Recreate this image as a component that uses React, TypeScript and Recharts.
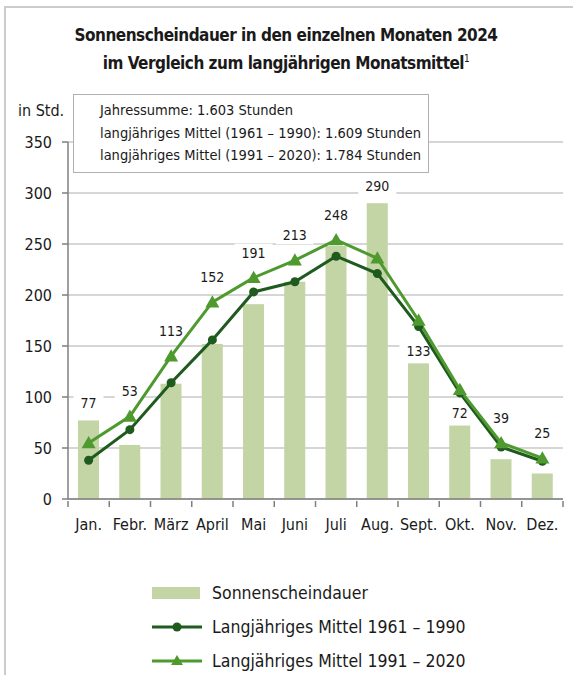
import React from "react";
import { ComposedChart, Bar, Line, XAxis, YAxis, CartesianGrid } from "recharts";

const months = ["Jan.", "Febr.", "März", "April", "Mai", "Juni", "Juli", "Aug.", "Sept.", "Okt.", "Nov.", "Dez."];
const sunshine2024 = [77, 53, 113, 152, 191, 213, 248, 290, 133, 72, 39, 25];
const mean1961to1990 = [38, 68, 114, 156, 203, 213, 238, 221, 169, 104, 51, 37];
const mean1991to2020 = [55, 81, 140, 193, 217, 234, 254, 236, 175, 107, 55, 40];
const yTicks = [0, 50, 100, 150, 200, 250, 300, 350];

const data = months.map((m, i) => ({
  month: m,
  sun: sunshine2024[i],
  m6190: mean1961to1990[i],
  m9120: mean1991to2020[i],
}));

const FONT = "'Liberation Sans Narrow', 'DejaVu Sans Condensed', Roboto, sans-serif";
const BAR = "#c3d4a5";
const DARK = "#1f5a1f";
const LIGHT = "#4e9a2f";
const GRID = "#c8c8c8";
const AXIS = "#7f7f7f";
const TEXT = "#1a1a1a";

function Triangle({ cx, cy }: any) {
  if (cx == null || cy == null) return null;
  const s = 7;
  return <path d={`M${cx},${cy - s} L${cx + s},${cy + s * 0.75} L${cx - s},${cy + s * 0.75} Z`} fill={LIGHT} />;
}

// bar + its value label; drawn in the bar layer so the lines run over the label boxes
function BarWithLabel(props: any) {
  const x = Number(props.x), y = Number(props.y);
  const width = Number(props.width), height = Number(props.height);
  const index = props.index;
  const value = sunshine2024[index];
  if (!value || !height) return null;
  const perUnit = height / value;
  const hi = Math.max(mean1961to1990[index], mean1991to2020[index]);
  const lo = Math.min(mean1961to1990[index], mean1991to2020[index]);
  const hiTop = y + height - hi * perUnit;
  const loTop = y + height - lo * perUnit;
  let cy;
  if (value >= hi) cy = y - 17;
  else if (y - loTop > 30) cy = y - 12;
  else cy = hiTop - 25;
  const text = String(value);
  const w = text.length * 8 + 14;
  const cx = x + width / 2;
  return (
    <g>
      <rect x={x} y={y} width={width} height={height} fill={BAR} />
      <rect x={cx - w / 2} y={cy - 9} width={w} height={18} fill="#fff" />
      <text x={cx} y={cy} dy="0.35em" textAnchor="middle" fontSize={14} fill={TEXT}>
        {text}
      </text>
    </g>
  );
}

function MonthTick({ x, y, payload, index }: any) {
  const off = payload?.offset ?? 0;
  return (
    <g>
      <line x1={x - off} x2={x - off} y1={y} y2={y + 6} stroke={AXIS} strokeWidth={1.5} />
      {index === months.length - 1 && (
        <line x1={x + off} x2={x + off} y1={y} y2={y + 6} stroke={AXIS} strokeWidth={1.5} />
      )}
      <text x={x} y={y + 23} dy="0.35em" textAnchor="middle" fontSize={16} fill={TEXT}>
        {payload.value}
      </text>
    </g>
  );
}

function LegendRow({ kind, label }: { kind: "bar" | "dark" | "light"; label: string }) {
  return (
    <div style={{ display: "flex", alignItems: "center", height: 34 }}>
      <svg width={50} height={14} style={{ marginRight: 10 }}>
        {kind === "bar" && <rect x={0} y={1} width={48} height={12} fill={BAR} />}
        {kind === "dark" && (
          <g>
            <line x1={0} x2={50} y1={7} y2={7} stroke={DARK} strokeWidth={3} />
            <circle cx={25} cy={7} r={4.5} fill={DARK} />
          </g>
        )}
        {kind === "light" && (
          <g>
            <line x1={0} x2={50} y1={7} y2={7} stroke={LIGHT} strokeWidth={3} />
            <path d="M25,1 L31,11 L19,11 Z" fill={LIGHT} />
          </g>
        )}
      </svg>
      <span style={{ fontSize: 17.5, color: TEXT }}>{label}</span>
    </div>
  );
}

export default function App() {
  return (
    <div style={{ position: "absolute", left: 0, top: 0, width: 573, height: 675, background: "#fff", fontFamily: FONT, overflow: "hidden" }}>
      <div style={{ position: "absolute", left: 4, top: 6, width: 575, height: 675, borderTop: "2px solid #cccccc", borderLeft: "2px solid #cccccc" }} />

      <div style={{ position: "absolute", left: 0, top: 21, width: 572, textAlign: "center", fontWeight: "bold", fontSize: 17, letterSpacing: -0.5, lineHeight: "28px", color: TEXT }}>
        Sonnenscheindauer in den einzelnen Monaten 2024
        <br />
        im Vergleich zum langjährigen Monatsmittel
        <span style={{ fontSize: 10, fontWeight: "normal", position: "relative", top: -7, lineHeight: 0 }}>1</span>
      </div>

      <div style={{ position: "absolute", left: 18, top: 101, fontSize: 16, color: TEXT }}>in Std.</div>

      <div style={{ position: "absolute", top: 0, left: 0 }}>
        <ComposedChart width={573} height={540} data={data} margin={{ top: 142, right: 10, left: 0, bottom: 11 }}>
          <CartesianGrid vertical={false} stroke={GRID} strokeWidth={1.5} />
          <XAxis
            dataKey="month"
            height={30}
            interval={0}
            axisLine={{ stroke: AXIS, strokeWidth: 1.5 }}
            tickLine={false}
            tickSize={0}
            tick={<MonthTick />}
          />
          <YAxis
            width={68}
            domain={[0, 350]}
            ticks={yTicks}
            interval={0}
            axisLine={{ stroke: AXIS, strokeWidth: 1.5 }}
            tickLine={{ stroke: AXIS, strokeWidth: 1.5 }}
            tickSize={6}
            tickMargin={10}
            tick={{ fontSize: 16, fill: TEXT }}
          />
          <Bar dataKey="sun" fill={BAR} barSize={21} shape={<BarWithLabel />} isAnimationActive={false} />
          <Line
            type="linear"
            dataKey="m6190"
            stroke={DARK}
            strokeWidth={3}
            dot={{ r: 4.5, fill: DARK, stroke: DARK, strokeWidth: 0 }}
            isAnimationActive={false}
          />
          <Line
            type="linear"
            dataKey="m9120"
            stroke={LIGHT}
            strokeWidth={3}
            dot={<Triangle />}
            isAnimationActive={false}
          />
        </ComposedChart>
      </div>

      <div style={{ position: "absolute", left: 73, top: 94, width: 328, height: 73, border: "1px solid #b0b0b0", background: "#fff", paddingLeft: 26, fontSize: 14.5, lineHeight: "22.5px", color: TEXT, paddingTop: 4 }}>
        <div>Jahressumme: 1.603 Stunden</div>
        <div>langjähriges Mittel (1961 – 1990): 1.609 Stunden</div>
        <div>langjähriges Mittel (1991 – 2020): 1.784 Stunden</div>
      </div>

      <div style={{ position: "absolute", left: 152, top: 576 }}>
        <LegendRow kind="bar" label="Sonnenscheindauer" />
        <LegendRow kind="dark" label="Langjähriges Mittel 1961 – 1990" />
        <LegendRow kind="light" label="Langjähriges Mittel 1991 – 2020" />
      </div>
    </div>
  );
}
